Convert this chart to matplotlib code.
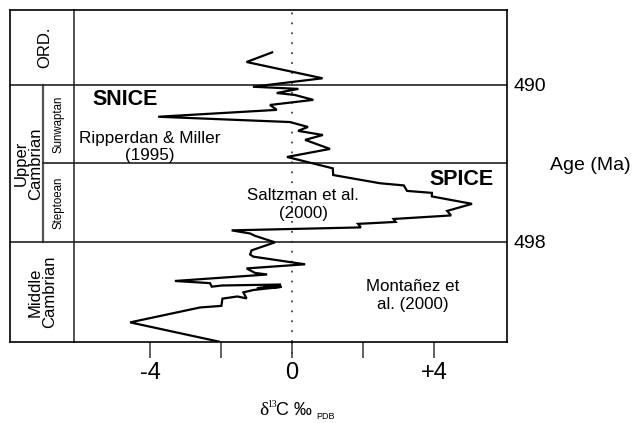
import matplotlib
matplotlib.use("Agg")
import matplotlib.pyplot as plt

plt.rcParams['font.family'] = ['Liberation Sans', 'DejaVu Sans']

# delta13C (permil PDB) and age (Ma) along the curve, top to bottom
d13c = [-0.56, -1.28, 0.86, -1.10, 0.18, -0.43, 0.08, 0.60, -0.62, -0.43,
        -3.77, -0.06, 0.45, 0.17, 0.87, 0.37, 1.07, -0.14, 1.15, 1.16,
        2.48, 3.15, 3.24, 3.94, 3.94, 5.07, 4.37, 4.48, 2.86, 2.92,
        1.86, 1.94, -1.70, -1.18, -1.04, -0.48, -1.14, -1.18, -1.09, 0.37,
        -1.28, -1.04, -0.70, -3.30, -2.31, -2.26, -1.97, -0.31, -0.99, -0.29,
        -1.09, -1.37, -1.28, -1.54, -1.96, -1.99, -2.59, -4.56, -2.06]
age = [488.34, 488.83, 489.66, 490.09, 490.20, 490.41, 490.51, 490.76, 491.02, 491.27,
       491.62, 491.89, 492.14, 492.34, 492.55, 492.80, 493.26, 493.67, 494.25, 494.59,
       495.01, 495.12, 495.40, 495.50, 495.68, 496.06, 496.42, 496.65, 496.83, 496.98,
       497.08, 497.26, 497.41, 497.57, 497.69, 498.02, 498.43, 498.64, 498.75, 499.14,
       499.35, 499.58, 499.66, 499.99, 500.10, 500.28, 500.22, 500.17, 500.36, 500.29,
       500.45, 500.57, 500.88, 500.78, 500.89, 501.26, 501.34, 502.10, 503.08]

x_ticks = [-4, -2, 0, 2, 4]
x_tick_labels = ["-4", "", "0", "", "+4"]
age_ticks = [490, 498]
age_tick_labels = ["490", "498"]
stage_boundary = 494

W, H = 633, 423
fig = plt.figure(figsize=(W / 100, H / 100), dpi=100)

def fr(x0, y0, x1, y1):
    return [x0 / W, 1 - y1 / H, (x1 - x0) / W, (y1 - y0) / H]

ylim = (503.10, 486.18)
frame_lw = 1.2

# --- stratigraphic column axes
axs = fig.add_axes(fr(10, 10, 74, 342))
axs.set_xlim(0, 1)
axs.set_ylim(*ylim)
axs.set_xticks([]); axs.set_yticks([])
for s in ['left', 'top', 'bottom']:
    axs.spines[s].set_linewidth(frame_lw)
axs.spines['right'].set_visible(False)
axs.axvline(1.0, color='#444444', lw=1.3, clip_on=False)
sub_x = (43 - 10) / 64
axs.plot([sub_x, sub_x], [490, 498], color='#555555', lw=1.6)
axs.plot([0, 1], [490, 490], color='#222222', lw=1.2)
axs.plot([0, 1], [498, 498], color='#222222', lw=1.2)
axs.plot([sub_x, 1], [stage_boundary, stage_boundary], color='#222222', lw=1.2)
axs.text(0.55, 488.09, "ORD.", rotation=90, ha='center', va='center', fontsize=12)
axs.text(0.29, 494, "Upper\nCambrian", rotation=90, ha='center', va='center',
         fontsize=12, linespacing=0.95)
axs.text(0.76, 492, "Sunwaptan", rotation=90, ha='center', va='center', fontsize=8.3)
axs.text(0.76, 496, "Steptoean", rotation=90, ha='center', va='center', fontsize=8.3)
axs.text(0.51, 500.55, "Middle\nCambrian", rotation=90, ha='center', va='center',
         fontsize=12, linespacing=0.95)

# --- data axes
ax = fig.add_axes(fr(74, 10, 507, 342))
ax.set_xlim((74 - 292) / 35.5, (507 - 292) / 35.5)
ax.set_ylim(*ylim)
ax.patch.set_alpha(0)
ax.spines['left'].set_visible(False)
for s in ['right', 'top', 'bottom']:
    ax.spines[s].set_linewidth(frame_lw)

ax.axvline(0, color='#444444', lw=1.3, ls=(0, (1, 4.5)), zorder=1)
ax.plot([0, 0], [ylim[0], ylim[0] + 0.7], color='#444444', lw=1.3,
        ls=(0, (1, 4.5)), clip_on=False)
for a in age_ticks:
    ax.axhline(a, color='#222222', lw=1.2, zorder=1)
ax.axhline(stage_boundary, color='#222222', lw=1.2, zorder=1)

ax.plot(d13c, age, color='black', lw=1.6, zorder=3, solid_joinstyle='miter')

ax.set_xticks(x_ticks)
ax.set_xticklabels(x_tick_labels, fontsize=17)
ax.tick_params(axis='x', direction='out', length=11.5, width=1.3, color='#555555', pad=3)

ax.yaxis.tick_right()
ax.set_yticks(age_ticks)
ax.set_yticklabels(age_tick_labels, fontsize=14)
ax.tick_params(axis='y', length=0, pad=4.5)

ax.text(-4.70, 490.76, "SNICE", fontsize=15.5, fontweight='bold', ha='center', va='center')
ax.text(4.77, 494.84, "SPICE", fontsize=15.5, fontweight='bold', ha='center', va='center')
ax.text(-4.0, 493.16, "Ripperdan & Miller\n(1995)", fontsize=12.3, ha='center',
        va='center', multialignment='center')
ax.text(0.31, 496.09, "Saltzman et al.\n(2000)", fontsize=12.2, ha='center',
        va='center', multialignment='center')
ax.text(3.41, 500.73, "Montañez et\nal. (2000)", fontsize=12.2, ha='center',
        va='center', multialignment='center')

fig.text(590 / W, 1 - 165 / H, "Age (Ma)", fontsize=14, ha='center', va='center')
# x-axis label: delta13C permil PDB, assembled from pieces
fig.text(268 / W, 1 - 410 / H, "δ", fontsize=14, ha='right', va='center',
         family=['Liberation Serif', 'DejaVu Sans'])
fig.text(267.5 / W, 1 - 404 / H, "13", fontsize=7, ha='left', va='center',
         family=['Liberation Serif', 'DejaVu Sans'])
fig.text(276 / W, 1 - 410 / H, "C ‰", fontsize=13, ha='left', va='center')
fig.text(316 / W, 1 - 416 / H, "PDB", fontsize=6.5, ha='left', va='center')

fig.savefig("out.png", dpi=100)
